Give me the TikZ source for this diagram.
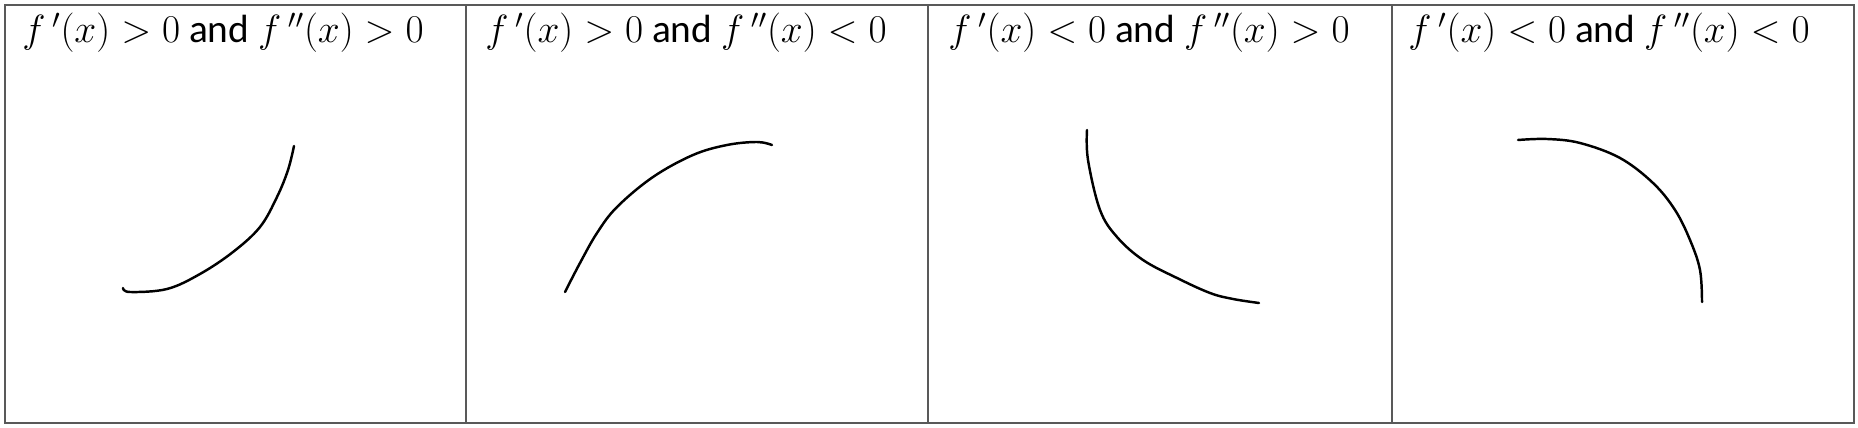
\RequirePackage{fix-cm}
\documentclass[tikz,border=0pt]{standalone}
\usepackage[no-math]{fontspec}
\setmainfont{Carlito}
\usetikzlibrary{positioning}
\definecolor{cellgray}{HTML}{595959}
\tikzset{
  cell/.style={draw=cellgray,line width=1.1pt},
  caselabel/.style={anchor=base west,inner sep=0pt,font=\fontsize{22.4}{26}\selectfont},
  sketch/.style={line width=1.4pt,line cap=round,line join=round}
}
\begin{document}
\begin{tikzpicture}[x=0.02cm,y=-0.02cm]
  \useasboundingbox (0,0) rectangle (1858,428);
  % table
  \draw[cell] (5,5) rectangle (1854,423);
  \foreach \xx in {466,928,1392}{\draw[cell] (\xx,5) -- (\xx,423);}
  % headings
  \node[caselabel] (upup) at (22,43) {$f\,'(x)>0$ and $f\,''(x)>0$};
  \node[caselabel] (updown) at (485,43) {$f\,'(x)>0$ and $f\,''(x)<0$};
  \node[caselabel] (downup) at (948,43) {$f\,'(x)<0$ and $f\,''(x)>0$};
  \node[caselabel] (downdown) at (1408,43) {$f\,'(x)<0$ and $f\,''(x)<0$};
  % sketched curves
  \draw[sketch] plot[smooth,tension=0.6] coordinates {(123,288) (130,292) (167,289) (200,274) (233,252) (260,227) (277,197) (288,170) (294,146)};
  \draw[sketch] plot[smooth,tension=0.6] coordinates {(565,292) (580,263) (597,233) (617,207) (653,177) (693,155) (727,145) (757,142) (772,145)};
  \draw[sketch] plot[smooth,tension=0.6] coordinates {(1087,130) (1088,160) (1100,210) (1117,237) (1143,260) (1177,278) (1210,293) (1233,299) (1259,303)};
  \draw[sketch] plot[smooth,tension=0.6] coordinates {(1518,140) (1547,139) (1580,143) (1620,158) (1653,183) (1675,210) (1690,240) (1700,270) (1702,302)};
\end{tikzpicture}
\end{document}
